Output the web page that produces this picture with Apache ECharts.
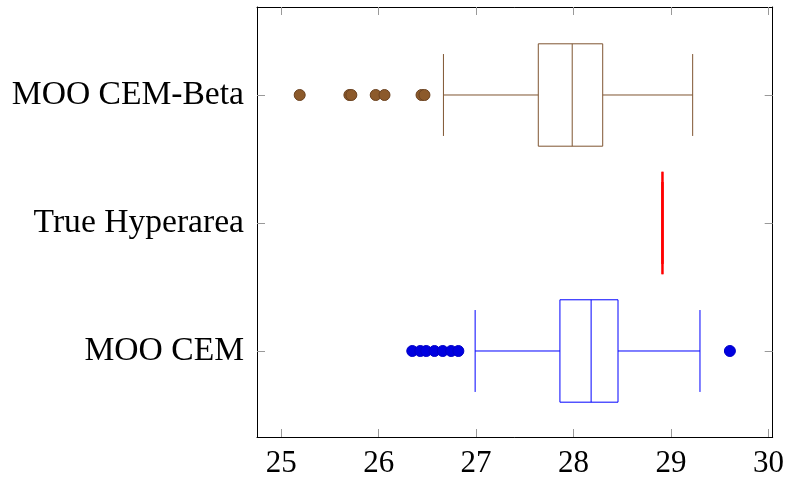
<!DOCTYPE html>
<html>
<head>
<meta charset="utf-8">
<script src="https://cdn.jsdelivr.net/npm/echarts@6/dist/echarts.min.js"></script>
<style>
  html, body { margin: 0; padding: 0; background: #fff; }
  #chart { width: 787px; height: 480px; }
</style>
</head>
<body>
<div id="chart"></div>
<script>
// positions on the y axis and their names
const groupPos = [1, 2, 3];
const groupNames = ['MOO CEM', 'True Hyperarea', 'MOO CEM-Beta'];
const xTicks = [25, 26, 27, 28, 29, 30];

// box stats: [lower whisker, q1, median, q3, upper whisker]
const mooCemBox = [26.99, 27.86, 28.18, 28.456, 29.297];
const trueHyperBox = [28.912, 28.912, 28.912, 28.912, 28.912];
const betaBox = [26.665, 27.638, 27.986, 28.299, 29.222];

// outliers
const mooCemOutliers = [26.345, 26.427, 26.488, 26.573, 26.658, 26.744, 26.818, 29.604];
const betaOutliers = [25.19, 25.70, 25.72, 25.97, 26.06, 26.44, 26.47];

const font = '"Liberation Serif", "Times New Roman", serif';

const boxRenderer = (color, lw) => {
  return (params, api) => {
    const pos = api.value(0);
    const wl = api.coord([api.value(1), pos]);
    const q1 = api.coord([api.value(2), pos]);
    const md = api.coord([api.value(3), pos]);
    const q3 = api.coord([api.value(4), pos]);
    const wh = api.coord([api.value(5), pos]);
    const boxH = api.size([0, 0.8])[1] / 2; // box extend 0.8
    const capH = boxH * 0.8;
    const cy = wl[1];
    const style = { stroke: color, lineWidth: lw, fill: null };
    const ln = (x1, y1, x2, y2) => ({ type: 'line', shape: { x1, y1, x2, y2 }, style });
    return {
      type: 'group',
      children: [
        ln(wl[0], cy, q1[0], cy),
        ln(q3[0], cy, wh[0], cy),
        ln(wl[0], cy - capH, wl[0], cy + capH),
        ln(wh[0], cy - capH, wh[0], cy + capH),
        { type: 'rect', shape: { x: q1[0], y: cy - boxH, width: q3[0] - q1[0], height: boxH * 2 }, style },
        ln(md[0], cy - boxH, md[0], cy + boxH)
      ]
    };
  };
};

const tickStyle = { show: true, inside: true, length: 8, customValues: xTicks, lineStyle: { color: '#999', width: 1 } };
const yTickStyle = { show: true, inside: true, length: 8, customValues: groupPos, lineStyle: { color: '#999', width: 1 } };

const myChart = echarts.init(document.getElementById('chart'), null, { renderer: 'canvas' });

const option = {
  animation: false,
  backgroundColor: '#fff',
  grid: { left: 257, right: 12, top: 7, bottom: 43, containLabel: false },
  xAxis: [
    {
      type: 'value',
      position: 'bottom',
      min: 24.752,
      max: 30.043,
      axisLine: { show: true, onZero: false, lineStyle: { color: '#000', width: 1 } },
      axisTick: tickStyle,
      axisLabel: { customValues: xTicks, color: '#000', fontFamily: font, fontSize: 31, margin: 11 },
      splitLine: { show: false }
    },
    {
      type: 'value',
      position: 'top',
      min: 24.752,
      max: 30.043,
      axisLine: { show: true, onZero: false, lineStyle: { color: '#000', width: 1 } },
      axisTick: tickStyle,
      axisLabel: { show: false },
      splitLine: { show: false }
    }
  ],
  yAxis: [
    {
      type: 'value',
      position: 'left',
      min: 0.328,
      max: 3.6875,
      axisLine: { show: true, onZero: false, lineStyle: { color: '#000', width: 1 } },
      axisTick: yTickStyle,
      axisLabel: {
        customValues: groupPos,
        color: '#000',
        fontFamily: font,
        fontSize: 33.6,
        margin: 13,
        formatter: (v) => groupNames[groupPos.indexOf(Math.round(v))] || ''
      },
      splitLine: { show: false }
    },
    {
      type: 'value',
      position: 'right',
      min: 0.328,
      max: 3.6875,
      axisLine: { show: true, onZero: false, lineStyle: { color: '#000', width: 1 } },
      axisTick: yTickStyle,
      axisLabel: { show: false },
      splitLine: { show: false }
    }
  ],
  series: [
    {
      type: 'custom',
      renderItem: boxRenderer('#7f5531', 1),
      encode: { x: [1, 2, 3, 4, 5], y: 0 },
      data: [[groupPos[2]].concat(betaBox)],
      z: 2
    },
    {
      type: 'custom',
      renderItem: boxRenderer('#ff0000', 2),
      encode: { x: [1, 2, 3, 4, 5], y: 0 },
      data: [[groupPos[1]].concat(trueHyperBox)],
      z: 2
    },
    {
      type: 'custom',
      renderItem: boxRenderer('#0000ff', 1),
      encode: { x: [1, 2, 3, 4, 5], y: 0 },
      data: [[groupPos[0]].concat(mooCemBox)],
      z: 2
    },
    {
      type: 'scatter',
      symbol: 'circle',
      symbolSize: 11,
      itemStyle: { color: '#8c5a2b', borderColor: '#6b4220', borderWidth: 1, opacity: 1 },
      data: betaOutliers.map((v) => [v, groupPos[2]]),
      z: 3
    },
    {
      type: 'scatter',
      symbol: 'circle',
      symbolSize: 11,
      itemStyle: { color: '#0000e0', borderColor: '#0000c8', borderWidth: 1, opacity: 1 },
      data: mooCemOutliers.map((v) => [v, groupPos[0]]),
      z: 3
    }
  ]
};

myChart.setOption(option);
</script>
</body>
</html>
